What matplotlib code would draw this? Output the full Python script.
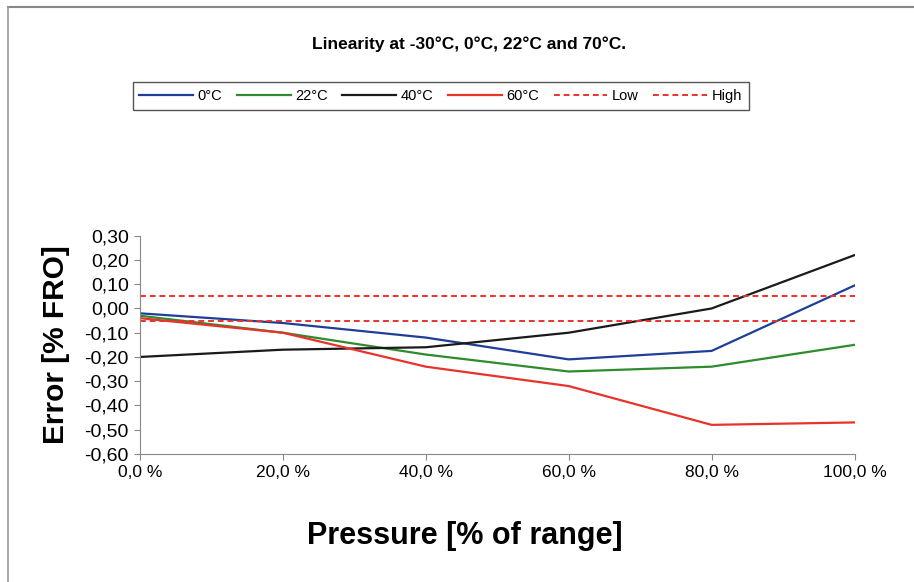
import matplotlib.pyplot as plt
from matplotlib.lines import Line2D
from matplotlib.ticker import FuncFormatter

plt.rcParams['font.family'] = ['Liberation Sans', 'DejaVu Sans']

# pressure points, % of range
pressure = [0, 20, 40, 60, 80, 100]

# error [% FRO] per temperature
err_0 = [-0.02, -0.06, -0.12, -0.21, -0.175, 0.095]
err_22 = [-0.03, -0.10, -0.19, -0.26, -0.24, -0.15]
err_40 = [-0.20, -0.17, -0.16, -0.10, 0.00, 0.22]
err_60 = [-0.04, -0.10, -0.24, -0.32, -0.48, -0.47]

# limits
low = -0.05
high = 0.05

fig = plt.figure(figsize=(9.14, 5.82), dpi=100)
ax = fig.add_axes([0.153, 0.22, 0.782, 0.375])

ax.plot(pressure, err_0, color='#1f3f96', lw=1.6, label='0°C')
ax.plot(pressure, err_22, color='#2e8b2e', lw=1.6, label='22°C')
ax.plot(pressure, err_40, color='#1a1a1a', lw=1.6, label='40°C')
ax.plot(pressure, err_60, color='#e8332a', lw=1.6, label='60°C')
ax.plot([pressure[0], pressure[-1]], [low, low], color='#e8332a', lw=1.4, ls=(0, (3, 2)), label='Low')
ax.plot([pressure[0], pressure[-1]], [high, high], color='#e8332a', lw=1.4, ls=(0, (3, 2)), label='High')

ax.set_xlim(0, 100)
ax.set_ylim(-0.6, 0.3)
ax.set_xticks(range(0, 101, 20))
ax.set_yticks([i / 10 for i in range(-6, 4)])
ax.xaxis.set_major_formatter(FuncFormatter(lambda v, p: f'{v:.1f} %'.replace('.', ',')))
ax.yaxis.set_major_formatter(FuncFormatter(lambda v, p: f'{v:.2f}'.replace('.', ',')))
ax.tick_params(length=4, color='#888888', pad=4)
ax.tick_params(axis='x', labelsize=12.5)
ax.tick_params(axis='y', labelsize=14)

for s in ['top', 'right']:
    ax.spines[s].set_visible(False)
for s in ['left', 'bottom']:
    ax.spines[s].set_color('#888888')

ax.set_ylabel('Error [% FRO]', fontsize=21.5, fontweight='bold', labelpad=10)
fig.text(0.509, 0.079, 'Pressure [% of range]', ha='center', va='center',
         fontsize=22, fontweight='bold')

fig.text(0.513, 0.924, 'Linearity at -30°C, 0°C, 22°C and 70°C.', ha='center', va='center',
         fontsize=12.5, fontweight='bold')

leg = fig.legend(loc='center', bbox_to_anchor=(0.482, 0.835), ncol=6, fontsize=10.5,
                 handlelength=3.7, handletextpad=0.3, columnspacing=1.0, fancybox=False,
                 edgecolor='#555555', framealpha=1, borderpad=0.45)
leg.get_frame().set_linewidth(1.0)

# scanned page frame: only top and left edges show
fig.lines.append(Line2D([0.0088, 1.0], [0.988, 0.988], transform=fig.transFigure,
                        color='#888888', lw=1.5))
fig.lines.append(Line2D([0.0088, 0.0088], [0.0, 0.988], transform=fig.transFigure,
                        color='#999999', lw=1.2))

fig.savefig('out.png', dpi=100)
